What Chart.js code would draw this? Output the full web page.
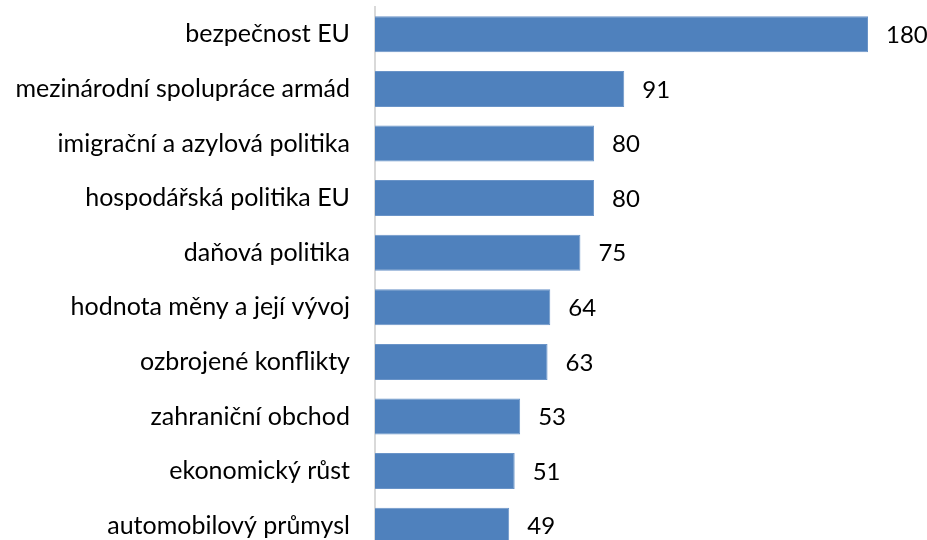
<!DOCTYPE html>
<html>
<head>
<meta charset="utf-8">
<script src="https://cdn.jsdelivr.net/npm/chart.js@4/dist/chart.umd.min.js"></script>
<style>
  html, body { margin: 0; padding: 0; background: #fff; overflow: hidden; }
  #wrap { width: 927px; height: 540px; overflow: hidden; }
  canvas { display: block; }
</style>
</head>
<body>
<div id="wrap"><canvas id="chart" width="927" height="560"></canvas></div>
<script>
// --- Data ---
const categories = [
    'bezpečnost EU',
    'mezinárodní spolupráce armád',
    'imigrační a azylová politika',
    'hospodářská politika EU',
    'daňová politika',
    'hodnota měny a její vývoj',
    'ozbrojené konflikty',
    'zahraniční obchod',
    'ekonomický růst',
    'automobilový průmysl'
];
const counts = [180, 91, 80, 80, 75, 64, 63, 53, 51, 49];

const FONT = "Lato, 'Open Sans', sans-serif";

// value labels to the right of each bar
const valueLabels = {
    id: 'valueLabels',
    afterDatasetsDraw(chart) {
        const ctx = chart.ctx;
        const meta = chart.getDatasetMeta(0);
        ctx.save();
        ctx.fillStyle = '#000';
        ctx.font = '24px ' + FONT;
        ctx.textAlign = 'left';
        ctx.textBaseline = 'middle';
        meta.data.forEach((bar, i) => {
            ctx.fillText(String(counts[i]), bar.x + 18, bar.y + 1);
        });
        ctx.restore();
    }
};

const ctx = document.getElementById('chart').getContext('2d');
const chart = new Chart(ctx, {
    type: 'bar',
    data: {
        labels: categories,
        datasets: [{
            data: counts,
            backgroundColor: '#4f81bd',
            borderColor: '#6a94c8',
            borderWidth: 1,
            categoryPercentage: 1,
            barPercentage: 0.66
        }]
    },
    options: {
        indexAxis: 'y',
        responsive: false,
        animation: false,
        layout: { padding: { top: 7, bottom: 7, left: 0, right: 59 } },
        plugins: {
            legend: { display: false },
            tooltip: { enabled: false }
        },
        scales: {
            x: {
                display: false,
                min: 0,
                max: 180
            },
            y: {
                afterFit(scale) {
                    scale.width = 375;
                    scale.paddingTop = 0;
                    scale.paddingBottom = 0;
                },
                grid: {
                    display: true,
                    drawOnChartArea: false,
                    drawTicks: true,
                    tickLength: 25,
                    color: 'rgba(0,0,0,0)'
                },
                border: { display: true, color: '#d9d9d9', width: 2 },
                ticks: {
                    padding: 0,
                    color: '#000',
                    font: { family: FONT, size: 25 }
                }
            }
        }
    },
    plugins: [valueLabels]
});
</script>
</body>
</html>
